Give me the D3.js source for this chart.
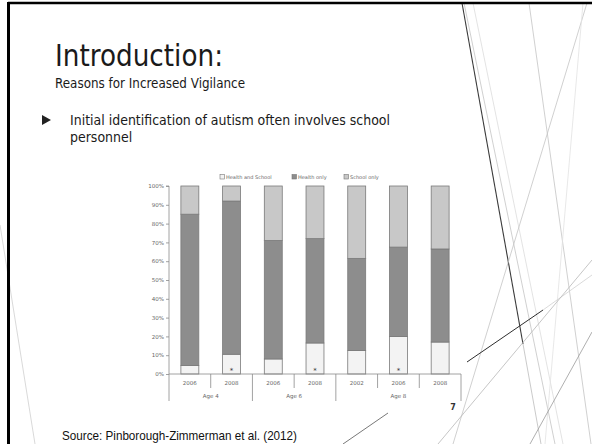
<!DOCTYPE html>
<html>
<head>
<meta charset="utf-8">
<script src="https://cdn.jsdelivr.net/npm/d3@7"></script>
<style>
  html, body { margin: 0; padding: 0; background: #fff; }
  svg { display: block; }
</style>
</head>
<body>
<svg id="slide" width="592" height="444"></svg>
<script>
// ---- data ----
const categories = ["2006", "2008", "2006", "2008", "2002", "2006", "2008"];
const ageGroups = ["Age 4", "Age 6", "Age 8"];
const groupSizes = [2, 2, 3];
const seriesNames = ["Health and School", "Health only", "School only"];
const healthAndSchool = [4.5, 10.5, 8, 16.5, 12.5, 20, 17];
const healthOnly = [80.5, 81.5, 63, 55.5, 49, 47.5, 49.5];
const schoolOnly = [15, 8, 29, 28, 38.5, 32.5, 33.5];
const significant = [false, true, false, true, false, true, false];
const yTicks = [0, 10, 20, 30, 40, 50, 60, 70, 80, 90, 100];

const titleText = "Introduction:";
const subtitleText = "Reasons for Increased Vigilance";
const bulletLines = ["Initial identification of autism often involves school", "personnel"];
const sourceText = "Source: Pinborough-Zimmerman et al. (2012)";
const pageNumber = "7";

// ---- styles ----
const colors = {"Health and School": "#f3f3f3", "Health only": "#8d8d8d", "School only": "#c8c8c8"};
const svg = d3.select("#slide");

// ---- decorative lines (theme) ----
const deco = [
  {x1: 462, y1: 3, x2: 523, y2: 344, c: "#3a3a3a", w: 1.1},
  {x1: 523, y1: 344, x2: 541, y2: 444, c: "#bdbdbd", w: 0.8},
  {x1: 464, y1: 3, x2: 555, y2: 444, c: "#c4c4c4", w: 0.8},
  {x1: 473, y1: 3, x2: 563, y2: 444, c: "#dcdcdc", w: 0.8},
  {x1: 529, y1: 3, x2: 591, y2: 444, c: "#c4c4c4", w: 0.8},
  {x1: 587, y1: 3, x2: 453, y2: 444, c: "#c4c4c4", w: 0.8},
  {x1: 583, y1: 3, x2: 545, y2: 444, c: "#e2e2e2", w: 0.8},
  {x1: 467, y1: 362, x2: 543, y2: 310, c: "#2e2e2e", w: 1},
  {x1: 543, y1: 310, x2: 592, y2: 275, c: "#d0d0d0", w: 0.8},
  {x1: 438, y1: 444, x2: 592, y2: 260, c: "#b8b8b8", w: 0.8},
  {x1: 530, y1: 444, x2: 592, y2: 332, c: "#9a9a9a", w: 0.8},
  {x1: 343, y1: 444, x2: 388, y2: 413, c: "#555", w: 0.8},
  {x1: 0, y1: 225, x2: 35, y2: 444, c: "#cfcfcf", w: 0.8}
];
svg.append("g").selectAll("line").data(deco).join("line")
  .attr("x1", d => d.x1).attr("y1", d => d.y1).attr("x2", d => d.x2).attr("y2", d => d.y2)
  .attr("stroke", d => d.c).attr("stroke-width", d => d.w);

// frame
svg.append("line").attr("x1", 8).attr("y1", 3).attr("x2", 592).attr("y2", 3).attr("stroke", "#000").attr("stroke-width", 2.5);
svg.append("line").attr("x1", 8.5).attr("y1", 2).attr("x2", 8.5).attr("y2", 444).attr("stroke", "#000").attr("stroke-width", 3);

// ---- slide text ----
function fit(sel, w) {
  sel.attr("textLength", w).attr("lengthAdjust", "spacingAndGlyphs");
}
const txtFont = "'DejaVu Sans', sans-serif";
const title = svg.append("text").attr("x", 55).attr("y", 66).attr("font-family", txtFont)
  .attr("font-size", 31).attr("fill", "#1a1a1a").text(titleText);
fit(title, 168);
const sub = svg.append("text").attr("x", 55).attr("y", 88).attr("font-family", txtFont)
  .attr("font-size", 14).attr("fill", "#1a1a1a").text(subtitleText);
fit(sub, 190);
svg.append("path").attr("d", "M42,115 L51,120 L42,125 Z").attr("fill", "#222");
const b1 = svg.append("text").attr("x", 70).attr("y", 124.5).attr("font-family", txtFont)
  .attr("font-size", 14).attr("fill", "#1a1a1a").text(bulletLines[0]);
const nat1 = b1.node().getComputedTextLength();
const ratio = 320 / nat1;
fit(b1, 320);
const b2 = svg.append("text").attr("x", 70).attr("y", 142).attr("font-family", txtFont)
  .attr("font-size", 14).attr("fill", "#1a1a1a").text(bulletLines[1]);
fit(b2, b2.node().getComputedTextLength() * ratio);

const src = svg.append("text").attr("x", 62).attr("y", 440).attr("font-family", "'Liberation Sans', Arial, sans-serif")
  .attr("font-size", 13).attr("fill", "#111").text(sourceText);
fit(src, 235);

svg.append("text").attr("x", 453).attr("y", 410).attr("font-family", txtFont)
  .attr("font-size", 8).attr("font-weight", "bold").attr("fill", "#333").attr("text-anchor", "middle").text(pageNumber);

// ---- chart ----
const x = d3.scaleBand().domain(d3.range(categories.length)).range([169, 461]).paddingInner(0.57).paddingOuter(0.285);
const y = d3.scaleLinear().domain([0, 100]).range([374, 186]);

const rows = categories.map((c, i) => ({
  i, "Health and School": healthAndSchool[i], "Health only": healthOnly[i], "School only": schoolOnly[i]
}));
const stack = d3.stack().keys(seriesNames)(rows);

const chart = svg.append("g");
chart.selectAll("g.series").data(stack).join("g").attr("class", "series")
  .attr("fill", d => colors[d.key])
  .selectAll("rect").data(d => d).join("rect")
  .attr("x", d => x(d.data.i)).attr("width", x.bandwidth())
  .attr("y", d => y(d[1])).attr("height", d => y(d[0]) - y(d[1]))
  .attr("stroke", "#7a7a7a").attr("stroke-width", 0.8);

// significance markers
chart.selectAll("text.sig").data(categories.map((c, i) => i).filter(i => significant[i])).join("text")
  .attr("class", "sig").attr("x", i => x(i) + x.bandwidth() / 2).attr("y", y(0) - 1)
  .attr("text-anchor", "middle").attr("font-family", "'DejaVu Sans', sans-serif").attr("font-size", 7)
  .attr("fill", "#333").text("*");

// y axis
const yAxis = chart.append("g").attr("transform", "translate(169,0)")
  .call(d3.axisLeft(y).tickValues(yTicks).tickFormat(d => d + "%").tickSize(3).tickPadding(2));
yAxis.selectAll("path, line").attr("stroke", "#8a8a8a").attr("stroke-width", 0.8);
yAxis.selectAll("text").attr("font-family", "'DejaVu Sans', sans-serif").attr("font-size", 5.5).attr("fill", "#666");
yAxis.select(".domain").attr("d", `M-3,${y(100)}H0V${y(0)}`);

// x axis line
chart.append("line").attr("x1", 169).attr("x2", 461).attr("y1", y(0)).attr("y2", y(0))
  .attr("stroke", "#8a8a8a").attr("stroke-width", 0.8);

// category labels
chart.selectAll("text.cat").data(categories).join("text").attr("class", "cat")
  .attr("x", (d, i) => x(i) + x.bandwidth() / 2).attr("y", 385)
  .attr("text-anchor", "middle").attr("font-family", "'DejaVu Sans', sans-serif")
  .attr("font-size", 5.5).attr("fill", "#666").text(d => d);

// separators
const step = x.step();
const x0 = x.range()[0];
let boundaries = [];
let acc = 0;
const groupStarts = groupSizes.map(s => { const st = acc; acc += s; return st; });
for (let k = 0; k <= categories.length; k++) {
  const isGroup = k === 0 || k === categories.length || groupStarts.includes(k);
  boundaries.push({k, isGroup});
}
chart.selectAll("line.sep").data(boundaries).join("line").attr("class", "sep")
  .attr("x1", d => x0 + d.k * step).attr("x2", d => x0 + d.k * step)
  .attr("y1", y(0)).attr("y2", d => d.isGroup ? 401 : 388)
  .attr("stroke", "#8a8a8a").attr("stroke-width", 0.8);

// group labels
chart.selectAll("text.grp").data(ageGroups).join("text").attr("class", "grp")
  .attr("x", (d, g) => x0 + (groupStarts[g] + groupSizes[g] / 2) * step).attr("y", 398)
  .attr("text-anchor", "middle").attr("font-family", "'DejaVu Sans', sans-serif")
  .attr("font-size", 5.5).attr("fill", "#666").text(d => d);

// legend
const legendX = [220, 292, 344];
const lg = chart.selectAll("g.leg").data(seriesNames).join("g").attr("class", "leg")
  .attr("transform", (d, i) => `translate(${legendX[i]},174.5)`);
lg.append("rect").attr("width", 4.5).attr("height", 4.5).attr("fill", d => colors[d])
  .attr("stroke", "#777").attr("stroke-width", 0.6);
lg.append("text").attr("x", 6).attr("y", 4.3).attr("font-family", "'DejaVu Sans', sans-serif")
  .attr("font-size", 5).attr("fill", "#666").text(d => d);
</script>
</body>
</html>
